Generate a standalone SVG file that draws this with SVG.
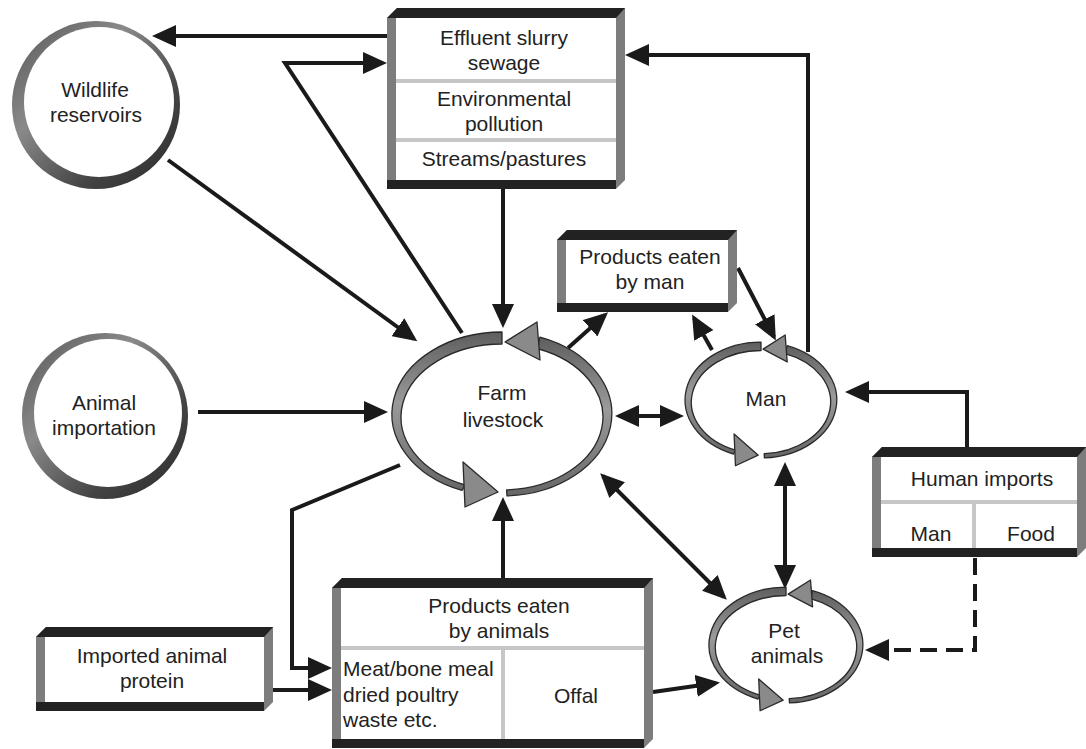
<svg xmlns="http://www.w3.org/2000/svg" xmlns:xlink="http://www.w3.org/1999/xlink" width="1086" height="749" viewBox="0 0 1086 749">
<style>
.side{fill:#7d7d7d}
.dark{fill:#222}
.face{fill:#fff}
.sep{stroke:#c6c6c6;stroke-width:4}
.t{font-family:"Liberation Sans",Arial,sans-serif;font-size:21px;fill:#222;text-anchor:middle}
.tl{text-anchor:start}
.c{fill:none;stroke:#1a1a1a;stroke-width:4}
.band{fill:url(#bandg);stroke:#2a2a2a;stroke-width:1.3;stroke-linejoin:round}
.head{fill:#8a8a8a;stroke:#2a2a2a;stroke-width:1.3;stroke-linejoin:round}
</style>
<defs>
<marker id="ah" viewBox="0 0 24 22" refX="20" refY="11" markerWidth="24" markerHeight="22" markerUnits="userSpaceOnUse" orient="auto-start-reverse">
<path d="M0,0 L24,11 L0,22 z" fill="#1a1a1a"/>
</marker>
<linearGradient id="ring" x1="0" y1="0" x2="1" y2="1">
<stop offset="0" stop-color="#555"/>
<stop offset="0.35" stop-color="#8a8a8a"/>
<stop offset="0.7" stop-color="#444"/>
<stop offset="1" stop-color="#2a2a2a"/>
</linearGradient>
<linearGradient id="bandg" x1="0" y1="0" x2="0" y2="1">
<stop offset="0" stop-color="#5e5e5e"/>
<stop offset="0.45" stop-color="#9a9a9a"/>
<stop offset="1" stop-color="#666"/>
</linearGradient>
<g id="cycle">
<path class="band" vector-effect="non-scaling-stroke" d="M 0 -82 A 110 82 0 0 0 -40 76.4 L -36.7 71 A 101 73 0 0 1 0 -70 Z"/>
<polygon class="head" vector-effect="non-scaling-stroke" points="-39,48 -4,78 -37,93"/>
<path class="band" vector-effect="non-scaling-stroke" d="M 5 81.9 A 110 82 0 0 0 38 -76.9 L 34.9 -65.5 A 101 73 0 0 1 4.6 75.9 Z"/>
<polygon class="head" vector-effect="non-scaling-stroke" points="35,-92 3,-72 38,-54"/>
</g>
</defs>
<rect width="1086" height="749" fill="#fff"/>

<g id="connectors">
<path class="c" d="M 387 36 L 156 36" marker-end="url(#ah)"/>
<path class="c" d="M 462 333 L 285 63 L 383 63" marker-end="url(#ah)"/>
<path class="c" d="M 503 189 L 503 324" marker-end="url(#ah)"/>
<path class="c" d="M 168 160 L 414 339" marker-end="url(#ah)"/>
<path class="c" d="M 198 412 L 384 412" marker-end="url(#ah)"/>
<path class="c" d="M 619 416 L 680 416" marker-start="url(#ah)" marker-end="url(#ah)"/>
<path class="c" d="M 568 348 L 605 315" marker-end="url(#ah)"/>
<path class="c" d="M 712 350 L 694 318" marker-end="url(#ah)"/>
<path class="c" d="M 738 268 L 774 337" marker-end="url(#ah)"/>
<path class="c" d="M 808 352 L 808 55 L 629 55" marker-end="url(#ah)"/>
<path class="c" d="M 967 447 L 967 392 L 849 392" marker-end="url(#ah)"/>
<path class="c" d="M 785 466 L 785 585" marker-start="url(#ah)" marker-end="url(#ah)"/>
<path class="c" d="M 603 476 L 724 597" marker-start="url(#ah)" marker-end="url(#ah)"/>
<path class="c" d="M 975 558 L 975 650 L 869 650" stroke-dasharray="17 9" marker-end="url(#ah)"/>
<path class="c" d="M 503 578 L 503 501" marker-end="url(#ah)"/>
<path class="c" d="M 400 465 L 292 510 L 292 668 L 328 668" marker-end="url(#ah)"/>
<path class="c" d="M 273 690 L 328 690" marker-end="url(#ah)"/>
<path class="c" d="M 653 692 L 716 683" marker-end="url(#ah)"/>
</g>

<g id="effluent">
<polygon class="side" points="387,18 397,8 625,8 625,180 616,189 387,189"/>
<polygon class="dark" points="387,18 397,8 625,8 616,18"/>
<rect class="dark" x="387" y="180" width="229" height="9"/>
<rect class="face" x="396" y="18" width="220" height="162"/>
<line class="sep" x1="396" y1="81" x2="616" y2="81"/>
<line class="sep" x1="396" y1="140" x2="616" y2="140"/>
<text class="t" x="504" y="45">Effluent slurry</text>
<text class="t" x="504" y="70">sewage</text>
<text class="t" x="504" y="106">Environmental</text>
<text class="t" x="504" y="131">pollution</text>
<text class="t" x="504" y="166">Streams/pastures</text>
</g>

<g id="products-man">
<polygon class="side" points="557,240 567,230 737,230 737,303 728,312 557,312"/>
<polygon class="dark" points="557,240 567,230 737,230 728,240"/>
<rect class="dark" x="557" y="303" width="171" height="9"/>
<rect class="face" x="566" y="240" width="162" height="63"/>
<text class="t" x="650" y="264">Products eaten</text>
<text class="t" x="650" y="289">by man</text>
</g>

<g id="human-imports">
<polygon class="side" points="872,457 882,447 1086,447 1086,548 1077,557 872,557"/>
<polygon class="dark" points="872,457 882,447 1086,447 1077,457"/>
<rect class="dark" x="872" y="548" width="205" height="9"/>
<rect class="face" x="881" y="457" width="196" height="91"/>
<line class="sep" x1="881" y1="502" x2="1077" y2="502"/>
<line class="sep" x1="974" y1="502" x2="974" y2="548"/>
<text class="t" x="982" y="486">Human imports</text>
<text class="t" x="931" y="541">Man</text>
<text class="t" x="1031" y="541">Food</text>
</g>

<g id="products-animals">
<polygon class="side" points="332,588 342,578 653,578 653,739 644,748 332,748"/>
<polygon class="dark" points="332,588 342,578 653,578 644,588"/>
<rect class="dark" x="332" y="739" width="312" height="9"/>
<rect class="face" x="341" y="588" width="303" height="151"/>
<line class="sep" x1="341" y1="648" x2="644" y2="648"/>
<line class="sep" x1="503" y1="648" x2="503" y2="739"/>
<text class="t" x="499" y="613">Products eaten</text>
<text class="t" x="499" y="638">by animals</text>
<text class="t tl" x="343" y="676">Meat/bone meal</text>
<text class="t tl" x="343" y="702">dried poultry</text>
<text class="t tl" x="343" y="727">waste etc.</text>
<text class="t" x="576" y="703">Offal</text>
</g>

<g id="imported-protein">
<polygon class="side" points="36,637 46,627 273,627 273,702 264,711 36,711"/>
<polygon class="dark" points="36,637 46,627 273,627 264,637"/>
<rect class="dark" x="36" y="702" width="228" height="9"/>
<rect class="face" x="45" y="637" width="219" height="65"/>
<text class="t" x="152" y="663">Imported animal</text>
<text class="t" x="152" y="688">protein</text>
</g>

<g id="wildlife">
<circle cx="96" cy="105" r="84" fill="url(#ring)"/>
<circle cx="99" cy="102" r="75" fill="#fff"/>
<text class="t" x="95" y="97">Wildlife</text>
<text class="t" x="96" y="122">reservoirs</text>
</g>

<g id="animal-importation">
<circle cx="105" cy="416" r="83" fill="url(#ring)"/>
<circle cx="108" cy="413" r="74" fill="#fff"/>
<text class="t" x="104" y="410">Animal</text>
<text class="t" x="104" y="435">importation</text>
</g>

<g id="farm-livestock">
<use xlink:href="#cycle" transform="translate(502,414)"/>
<text class="t" x="502" y="400">Farm</text>
<text class="t" x="503" y="427">livestock</text>
</g>

<g id="man">
<use xlink:href="#cycle" transform="translate(761,400) scale(0.69,0.707)"/>
<text class="t" x="766" y="406">Man</text>
</g>

<g id="pet-animals">
<use xlink:href="#cycle" transform="translate(786,645) scale(0.70,0.707)"/>
<text class="t" x="784" y="638">Pet</text>
<text class="t" x="787" y="663">animals</text>
</g>
</svg>
